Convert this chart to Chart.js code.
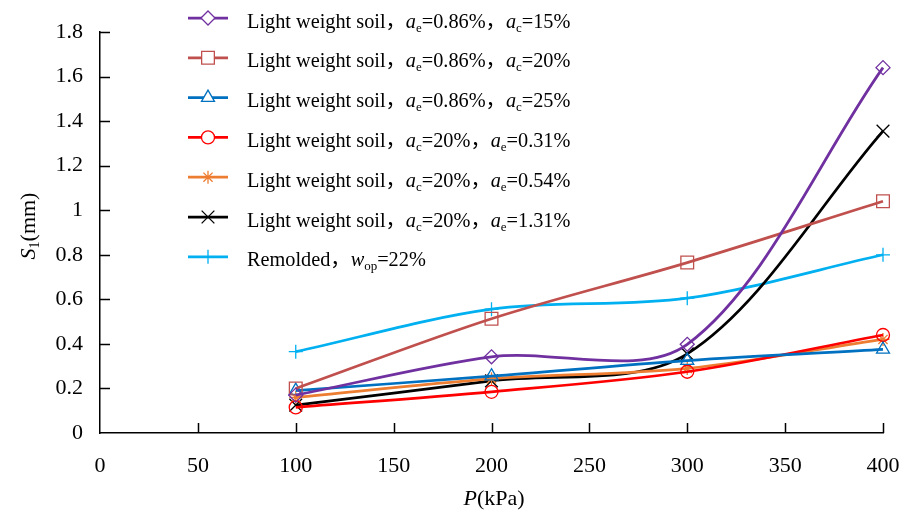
<!DOCTYPE html>
<html>
<head>
<meta charset="utf-8">
<script src="https://cdn.jsdelivr.net/npm/chart.js@4/dist/chart.umd.min.js"></script>
<style>
  body { margin: 0; background: #fff; }
  #wrap { width: 913px; height: 515px; }
</style>
</head>
<body>
<div id="wrap"><canvas id="myChart" width="913" height="515"></canvas></div>
<script>
// data
var pressure = [100, 200, 300, 400];
var ls_e086_c15 = [0.17, 0.342, 0.398, 1.64];
var ls_e086_c20 = [0.20, 0.513, 0.765, 1.04];
var ls_e086_c25 = [0.19, 0.255, 0.325, 0.375];
var ls_c20_e031 = [0.115, 0.185, 0.275, 0.44];
var ls_c20_e054 = [0.16, 0.243, 0.29, 0.42];
var ls_c20_e131 = [0.125, 0.234, 0.355, 1.355];
var remolded = [0.365, 0.556, 0.605, 0.80];

var xTicks = [0, 50, 100, 150, 200, 250, 300, 350, 400];
var yTicks = [0, 0.2, 0.4, 0.6, 0.8, 1, 1.2, 1.4, 1.6, 1.8];

// legend texts: [text, style]  n = normal, i = italic, s = subscript
var names = [
  [['Light weight soil，', 'n'], ['a', 'i'], ['e', 's'], ['=0.86%，', 'n'], ['a', 'i'], ['c', 's'], ['=15%', 'n']],
  [['Light weight soil，', 'n'], ['a', 'i'], ['e', 's'], ['=0.86%，', 'n'], ['a', 'i'], ['c', 's'], ['=20%', 'n']],
  [['Light weight soil，', 'n'], ['a', 'i'], ['e', 's'], ['=0.86%，', 'n'], ['a', 'i'], ['c', 's'], ['=25%', 'n']],
  [['Light weight soil，', 'n'], ['a', 'i'], ['c', 's'], ['=20%，', 'n'], ['a', 'i'], ['e', 's'], ['=0.31%', 'n']],
  [['Light weight soil，', 'n'], ['a', 'i'], ['c', 's'], ['=20%，', 'n'], ['a', 'i'], ['e', 's'], ['=0.54%', 'n']],
  [['Light weight soil，', 'n'], ['a', 'i'], ['c', 's'], ['=20%，', 'n'], ['a', 'i'], ['e', 's'], ['=1.31%', 'n']],
  [['Remolded，', 'n'], ['w', 'i'], ['op', 's'], ['=22%', 'n']]
];
var xTitle = [['P', 'i'], ['(kPa)', 'n']];
var yTitle = [['S', 'i'], ['1', 's'], ['(mm)', 'n']];

var series = [ls_e086_c15, ls_e086_c20, ls_e086_c25, ls_c20_e031, ls_c20_e054, ls_c20_e131, remolded];
var colors = ['#7030A0', '#C0504D', '#0070C0', '#FF0000', '#ED7D31', '#000000', '#00B0F0'];
var markers = ['rectRot', 'rect', 'triangle', 'circle', 'star', 'crossRot', 'cross'];
var markerRadius = [7, 9, 7.5, 6.5, 6.5, 9, 7];

var SERIF = '"Liberation Serif", "Times New Roman", "Noto Sans CJK SC", serif';

function fontFor(style, size) {
  if (style == 'i') return 'italic ' + size + 'px ' + SERIF;
  if (style == 's') return Math.round(size * 0.62) + 'px ' + SERIF;
  return size + 'px ' + SERIF;
}

function richWidth(ctx, parts, size) {
  var w = 0;
  parts.forEach(function (p) {
    ctx.font = fontFor(p[1], size);
    w += ctx.measureText(p[0]).width;
  });
  return w;
}

function drawRich(ctx, parts, x, y, size) {
  ctx.textBaseline = 'alphabetic';
  ctx.textAlign = 'left';
  parts.forEach(function (p) {
    ctx.font = fontFor(p[1], size);
    var dy = p[1] == 's' ? size * 0.2 : 0;
    ctx.fillText(p[0], x, y + dy);
    x += ctx.measureText(p[0]).width;
  });
}

var datasets = series.map(function (vals, i) {
  return {
    label: names[i].map(function (p) { return p[0]; }).join(''),
    data: vals.map(function (v, k) { return { x: pressure[k], y: v }; }),
    borderColor: colors[i],
    backgroundColor: 'rgba(0,0,0,0)',
    borderWidth: 2.75,
    tension: 0.32,
    clip: false,
    pointStyle: markers[i],
    pointRadius: markerRadius[i],
    pointBorderWidth: 1.3,
    pointBorderColor: colors[i],
    pointBackgroundColor: 'rgba(0,0,0,0)',
    fill: false
  };
});

var textPlugin = {
  id: 'textPlugin',
  afterDraw: function (chart) {
    var ctx = chart.ctx;
    var xs = chart.scales.x, ys = chart.scales.y;
    ctx.save();
    // inward tick marks
    ctx.strokeStyle = '#000';
    ctx.lineWidth = 1.5;
    ctx.beginPath();
    xTicks.forEach(function (v) {
      if (v == 0) return;
      var px = Math.round(xs.getPixelForValue(v)) + 0.5;
      ctx.moveTo(px, ys.bottom);
      ctx.lineTo(px, ys.bottom - 10);
    });
    yTicks.forEach(function (v) {
      if (v == 0) return;
      var py = Math.round(ys.getPixelForValue(v)) + 0.5;
      ctx.moveTo(xs.left, py);
      ctx.lineTo(xs.left + 10, py);
    });
    ctx.stroke();
    // legend
    for (var i = 0; i < datasets.length; i++) {
      var ly = 18 + i * 39.8;
      ctx.strokeStyle = colors[i];
      ctx.lineWidth = 2.75;
      ctx.beginPath();
      ctx.moveTo(188, ly);
      ctx.lineTo(228, ly);
      ctx.stroke();
      ctx.fillStyle = '#fff';
      ctx.lineWidth = 1.3;
      Chart.helpers.drawPoint(ctx, {
        pointStyle: markers[i], radius: markerRadius[i], borderWidth: 1.3, rotation: 0
      }, 208, ly);
      ctx.fillStyle = '#000';
      drawRich(ctx, names[i], 247, ly + 9.5, 20.3);
    }
    // axis titles
    var ts = 22;
    var w = richWidth(ctx, xTitle, ts);
    drawRich(ctx, xTitle, 494 - w / 2, 505, ts);
    ctx.translate(35, 226);
    ctx.rotate(-Math.PI / 2);
    w = richWidth(ctx, yTitle, ts);
    drawRich(ctx, yTitle, -w / 2, 0, ts);
    ctx.restore();
  }
};

const myChart = new Chart(document.getElementById('myChart'), {
  type: 'line',
  data: { datasets: datasets },
  plugins: [textPlugin],
  options: {
    responsive: false,
    animation: false,
    layout: { padding: { left: 0, right: 30, top: 32, bottom: 0 } },
    plugins: { legend: { display: false }, tooltip: { enabled: false } },
    scales: {
      x: {
        type: 'linear',
        min: 0, max: 400,
        afterBuildTicks: function (s) { s.ticks = xTicks.map(function (v) { return { value: v }; }); },
        afterFit: function (s) { s.height = 82; s.paddingRight = 0; s.paddingLeft = 0; },
        border: { color: '#000', width: 1.5 },
        grid: { drawOnChartArea: false, drawTicks: false },
        ticks: { color: '#000', font: { family: SERIF, size: 22 }, padding: 20, maxRotation: 0 }
      },
      y: {
        min: 0, max: 1.8,
        afterBuildTicks: function (s) { s.ticks = yTicks.map(function (v) { return { value: v }; }); },
        afterFit: function (s) { s.width = 100; },
        border: { color: '#000', width: 1.5 },
        grid: { drawOnChartArea: false, drawTicks: false },
        ticks: { color: '#000', font: { family: SERIF, size: 22 }, padding: 17,
          callback: function (v) { return String(v); } }
      }
    }
  }
});
</script>
</body>
</html>
